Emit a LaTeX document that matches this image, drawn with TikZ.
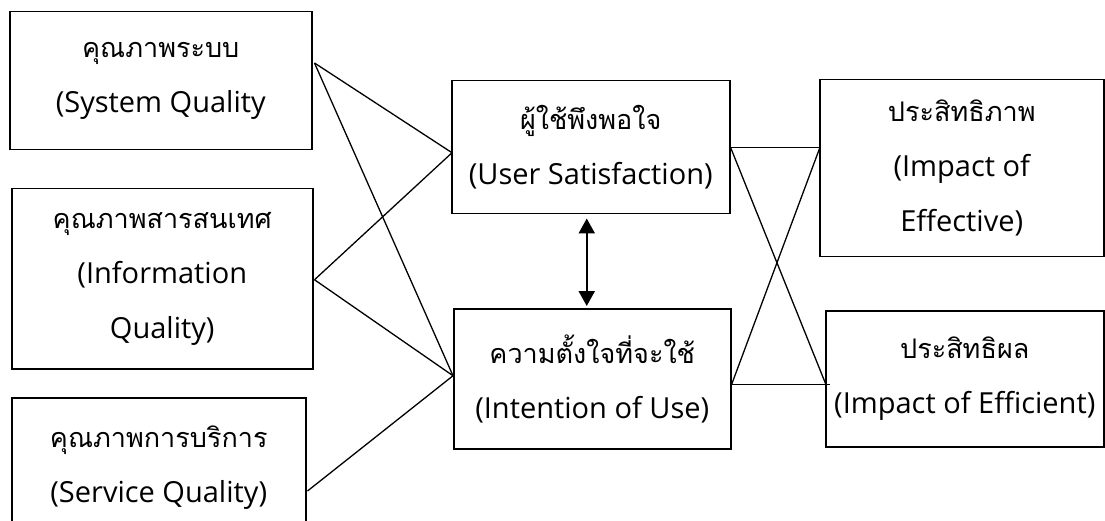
\documentclass[tikz,border=0pt]{standalone}
\usepackage{fontspec}
\setmainfont{Open Sans}
\newfontfamily\thaifont[Script=Thai]{Loma}
\newfontfamily\latfont{Open Sans}
\usetikzlibrary{arrows.meta}
\newcommand\thaitxt[1]{{\thaifont\fontsize{27}{55}\selectfont #1}}
\tikzset{
  box/.style={draw, line width=1.5pt, anchor=north west, inner sep=0pt, align=center,
    font=\fontsize{29}{55}\selectfont\latfont},
  link/.style={line width=1.3pt},
  dbl/.style={line width=2.2pt, {Triangle[width=16pt,length=15pt]}-{Triangle[width=16pt,length=15pt]}}
}
\begin{document}
\begin{tikzpicture}[x=1pt,y=-1pt]
\clip (0,0) rectangle (1105,521);
\fill[white] (0,0) rectangle (1105,521);
\node[box, minimum width=302pt, minimum height=138pt] (b1) at (9,11) {\thaitxt{คุณภาพระบบ}\\(System Quality};
\node[box, minimum width=301pt, minimum height=180pt] (b2) at (11,188) {\thaitxt{คุณภาพสารสนเทศ}\\(Information\\Quality)};
\node[box, minimum width=294pt, minimum height=140pt] (b3) at (11,397) {\thaitxt{คุณภาพการบริการ}\\(Service Quality)};
\node[box, minimum width=278pt, minimum height=133pt] (b4) at (451,80) {\thaitxt{ผู้ใช้พึงพอใจ}\\(User Satisfaction)};
\node[box, minimum width=277pt, minimum height=140pt] (b5) at (453,308) {\thaitxt{ความตั้งใจที่จะใช้}\\(Intention of Use)};
\node[box, minimum width=284pt, minimum height=177pt] (b6) at (819,79) {\thaitxt{ประสิทธิภาพ}\\(Impact of\\Effective)};
\node[box, minimum width=278pt, minimum height=136pt] (b7) at (825,310) {\thaitxt{ประสิทธิผล}\\(Impact of Efficient)};
\draw[link] ([shift={(2,52)}]b1.north east) -- ([shift={(1,5.5)}]b4.west);
\draw[link] ([shift={(2,52)}]b1.north east) -- ([shift={(0,-3)}]b5.west);
\draw[link] ([shift={(1,1)}]b2.east) -- ([shift={(1,5.5)}]b4.west);
\draw[link] ([shift={(1,1)}]b2.east) -- ([shift={(0,-3)}]b5.west);
\draw[link] ([shift={(1,94)}]b3.north east) -- ([shift={(0,-3)}]b5.west);
\draw[link] (b4.east) -- ([shift={(1,-21)}]b6.west);
\draw[link] (b4.east) -- ([shift={(1,6)}]b7.west);
\draw[link] ([shift={(0,6)}]b5.east) -- ([shift={(5,6)}]b7.west);
\draw[link] ([shift={(0,6)}]b5.east) -- ([shift={(1,-21)}]b6.west);
\draw[dbl] ([shift={(-4,4)}]b4.south) -- ([shift={(-5.5,-2)}]b5.north);
\end{tikzpicture}
\end{document}
